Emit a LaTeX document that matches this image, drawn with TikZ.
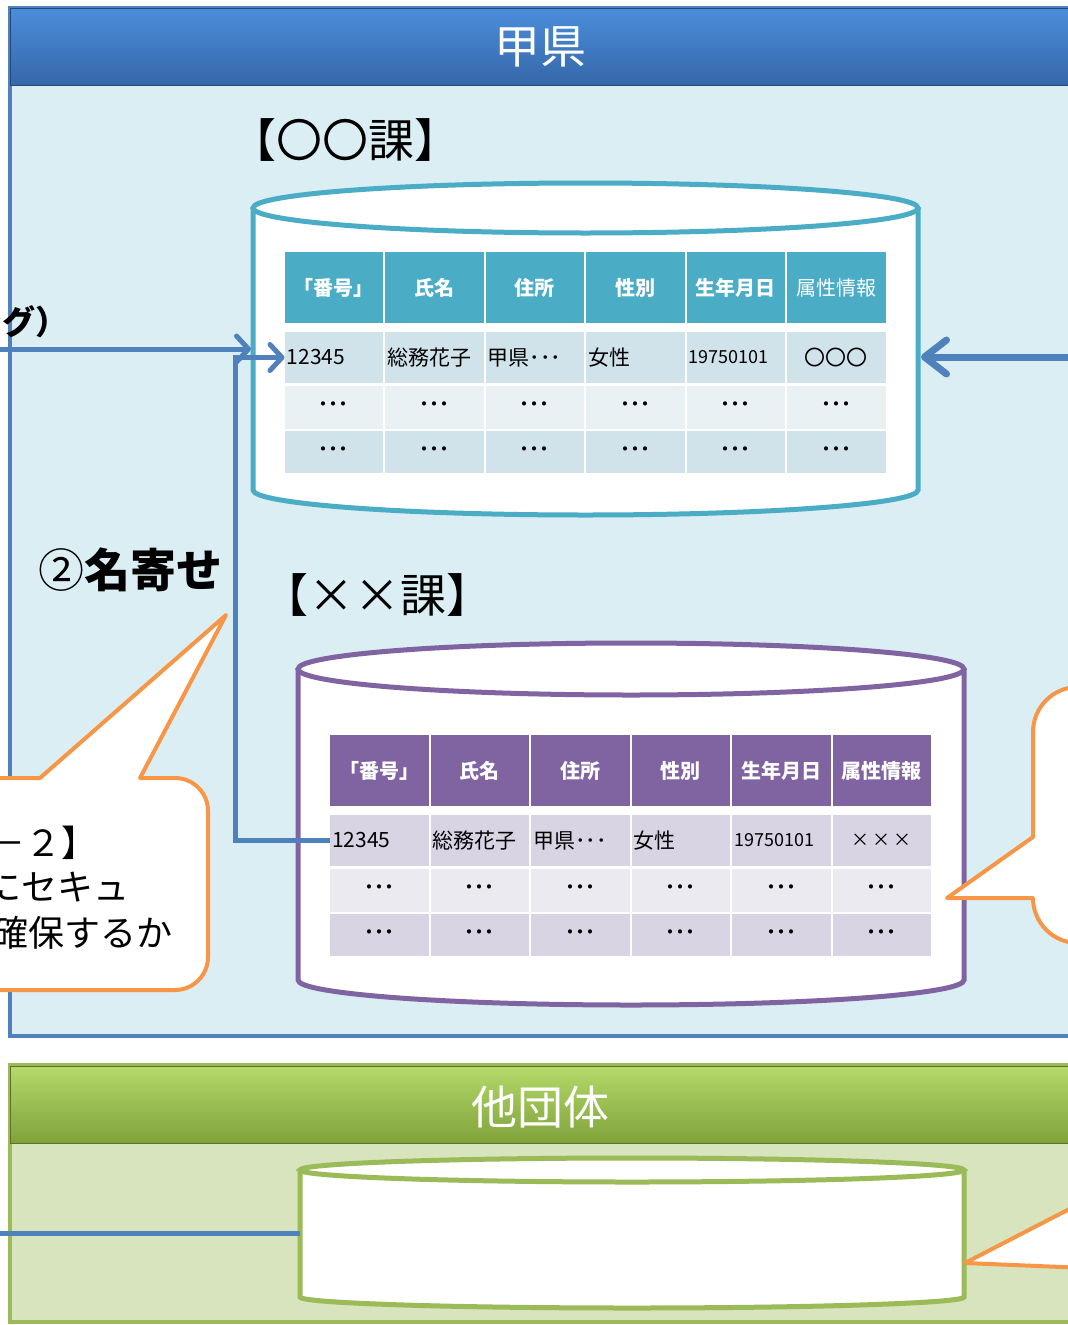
\documentclass[tikz,border=0pt]{standalone}
\usepackage{fontspec}
\setmainfont{Noto Sans CJK JP}
\usetikzlibrary{arrows.meta}

\definecolor{kenblue}{HTML}{4F81BD}
\definecolor{kenpale}{HTML}{DAEEF3}
\definecolor{bandtop}{HTML}{4C8EDC}
\definecolor{bandbot}{HTML}{3667A9}
\definecolor{tealhd}{HTML}{4BACC6}
\definecolor{tealdk}{HTML}{D0E3EA}
\definecolor{teallt}{HTML}{E9F1F4}
\definecolor{purphd}{HTML}{8064A2}
\definecolor{purpdk}{HTML}{D9D4E4}
\definecolor{purplt}{HTML}{ECEAF1}
\definecolor{calloutor}{HTML}{F79646}
\definecolor{dantai}{HTML}{9BBB59}
\definecolor{dantaipale}{HTML}{D7E4BD}
\definecolor{gbandtop}{HTML}{B6D96A}
\definecolor{gbandbot}{HTML}{7FA23B}

\newcommand\fs[1]{\fontsize{#1}{#1}\selectfont}

\begin{document}
\begin{tikzpicture}[
  x=1pt,
  y=-1pt,
  every node/.style={inner sep=0pt, outer sep=0pt},
  title/.style={text=white, font=\fs{46}},
  heading/.style={font=\fs{46}},
  cell/.style={
    anchor=north west,
    minimum width=98.5pt,
    text width=94pt,
    font=\fs{21},
  },
  headcell/.style={cell, minimum height=71pt, align=center, text=white,
    font=\fs{20}\bfseries},
  datacell/.style={cell, minimum height=51pt, align=left},
  dotcell/.style={cell, align=center, font=\fs{20}\bfseries},
  cylinder/.style={fill=white, line width=5pt},
  link/.style={draw=kenblue, line width=5pt},
  callout/.style={draw=calloutor, fill=white, line width=4pt, line join=round},
]
  \useasboundingbox (0,0) rectangle (1068,1325);
  \clip (0,0) rectangle (1068,1325);

  % 甲県
  \path[fill=kenpale, draw=kenblue, line width=3.5pt] (10,8) rectangle (1090,1036);
  \path[top color=bandtop, bottom color=bandbot, draw=bandbot!70!black,
    line width=1pt] (10,8) rectangle (1090,85);
  \node[title] (ken) at (540,47) {甲県};

  % 他団体
  \path[fill=dantaipale, draw=dantai, line width=3.5pt] (10,1065) rectangle (1090,1322);
  \path[top color=gbandtop, bottom color=gbandbot, draw=gbandbot!70!black,
    line width=1pt] (10,1066) rectangle (1090,1143);
  \node[title] (tadantai) at (540,1107) {他団体};

  \node[heading] (kaA) at (345,140) {【〇〇課】};
  \node[heading] (kaB) at (377,595) {【××課】};
  \node[heading, font=\fs{46}\bfseries] (nayose) at (130,570) {{\mdseries ②}名寄せ};
  \node[anchor=west, font=\fs{33}\bfseries] (match) at (-30,322) {ング）};

  % databases
  \filldraw[cylinder, draw=tealhd] (253,208) -- (253,490)
    arc[start angle=180, end angle=360, x radius=332.5pt, y radius=25pt]
    -- (918,208);
  \filldraw[cylinder, draw=tealhd] (585.5,208)
    ellipse[x radius=332.5pt, y radius=25pt];
  \filldraw[cylinder, draw=purphd] (298,669) -- (298,980)
    arc[start angle=180, end angle=360, x radius=333pt, y radius=25pt]
    -- (964,669);
  \filldraw[cylinder, draw=purphd] (631,669)
    ellipse[x radius=333pt, y radius=26pt];
  \filldraw[cylinder, draw=dantai] (300,1170) -- (300,1297)
    arc[start angle=180, end angle=360, x radius=332pt, y radius=11pt]
    -- (964,1170);
  \filldraw[cylinder, draw=dantai] (632,1170)
    ellipse[x radius=332pt, y radius=12pt];

  \foreach \tb/\ox/\oy/\hd/\dk/\lt/\attr/\mark in {
    ka/284.5/252/tealhd/tealdk/teallt/{\mdseries 属性情報}/{〇〇〇},
    kb/330/735/purphd/purpdk/purplt/属性情報/{\fs{18}×\,×\,×}%
  }{
    \foreach \col/\txt in {0/「番号」,1/氏名,2/住所,3/性別,4/生年月日,5/\attr}
      \node[headcell, fill=\hd] (\tb-h\col) at (\ox+\col*100.5,\oy) {\txt};
    \foreach \col/\txt in {0/12345,1/総務花子,2/甲県･･･,3/女性,
      4/{\fs{18}19750101}}
      \node[datacell, fill=\dk] (\tb-a\col) at (\ox+\col*100.5,\oy+80) {\txt};
    \node[datacell, align=center, fill=\dk] (\tb-a5) at (\ox+502.5,\oy+80) {\mark};
    \foreach \col in {0,...,5} {
      \node[dotcell, minimum height=43pt, fill=\lt] (\tb-b\col)
        at (\ox+\col*100.5,\oy+133.5) {･･･};
      \node[dotcell, minimum height=42pt, fill=\dk] (\tb-c\col)
        at (\ox+\col*100.5,\oy+179) {･･･};
    }
  }

  % connectors
  \coordinate (inA) at (0,349);
  \coordinate (cylA-w) at (251,349);
  \coordinate (inB) at (1068,357);
  \coordinate (cylA-e) at (921,357);
  \coordinate (inC) at (0,1233);
  \coordinate (cylC-w) at (300,1233);
  \coordinate (bend) at (235,600);
  \begin{scope}[>={Straight Barb[round, length=12pt, width=26pt]}]
    \draw[link, ->] (inA) -- (cylA-w);
    \draw[link, ->] (kb-a0.west) -| (bend) |- (ka-a0.west);
    \draw[link, line width=7pt,
      -{Straight Barb[round, length=22pt, width=34pt]}] (inB) -- (cylA-e);
    \draw[link] (inC) -- (cylC-w);
  \end{scope}

  % callouts
  \filldraw[callout] (-20,778) -- (40,778) -- (226,615) -- (140,778)
    -- (175,778) arc[start angle=90, end angle=0, radius=33pt]
    -- (208,957) arc[start angle=0, end angle=-90, radius=33pt]
    -- (-20,990);
  \node[anchor=west, font=\fs{36}] (kadai1) at (-10,843) {－２】};
  \node[anchor=west, font=\fs{36}] (kadai2) at (-14,887) {にセキュ};
  \node[anchor=west, font=\fs{36}] (kadai3) at (-8,933) {確保するか};

  \filldraw[callout] (1100,687) -- (1078,687)
    arc[start angle=90, end angle=180, radius=45pt]
    -- (1033,837) -- (947,898) -- (1033,898)
    arc[start angle=180, end angle=270, radius=45pt]
    -- (1100,943);
  \filldraw[callout] (1110,1188) -- (965,1263) -- (1110,1269);
\end{tikzpicture}
\end{document}
